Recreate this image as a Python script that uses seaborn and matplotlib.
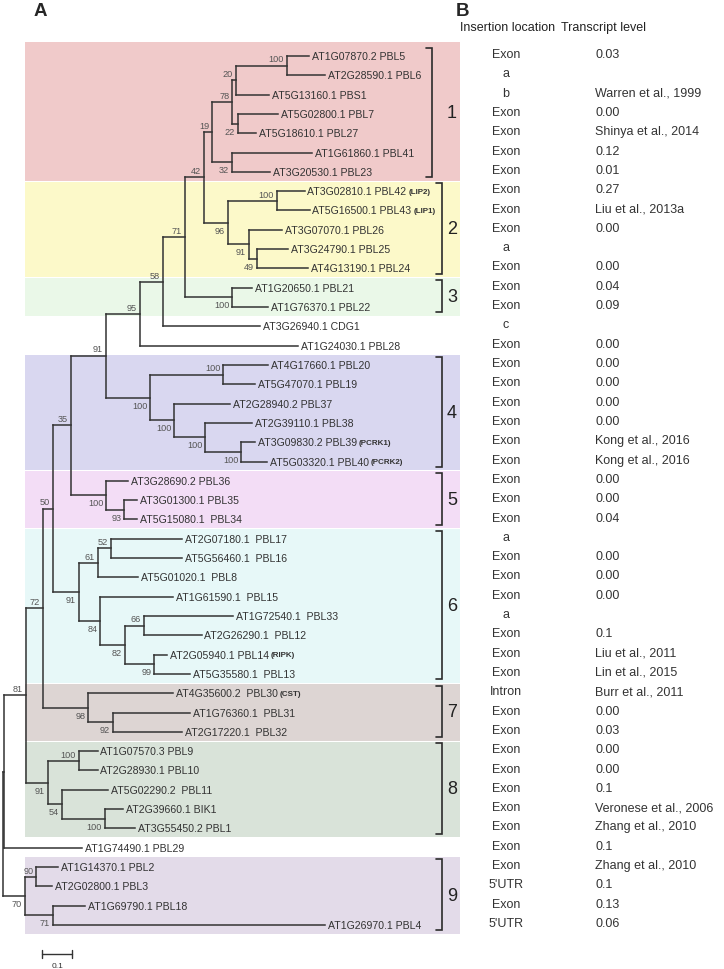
import re
import pandas as pd
import matplotlib
matplotlib.use("Agg")
import matplotlib.pyplot as plt
import matplotlib.transforms as mtransforms
import seaborn as sns

# ---- data ---------------------------------------------------------------
# clades in Newick form, branch lengths read off the tree (scale bar = 0.1)
clade1 = ("((((AT1G07870.2_PBL5:0.073,AT2G28590.1_PBL6:0.127)100:0.17,AT5G13160.1_PBS1:0.11)20:0.013,"
          "(AT5G02800.1_PBL7:0.133,AT5G18610.1_PBL27:0.06)22:0.02)78:0.067,"
          "(AT1G61860.1_PBL41:0.267,AT3G20530.1_PBL23:0.127)32:0.067)19:0.027")
clade2 = ("((AT3G02810.1_PBL42:0.093,AT5G16500.1_PBL43:0.11)100:0.163,"
          "(AT3G07070.1_PBL26:0.11,(AT3G24790.1_PBL25:0.103,AT4G13190.1_PBL24:0.17)49:0.027)91:0.07)96:0.08")
clade3 = "(AT1G20650.1_PBL21:0.067,AT1G76370.1_PBL22:0.12)100:0.157"
clade4 = ("((AT4G17660.1_PBL20:0.15,AT5G47070.1_PBL19:0.107)100:0.243,"
          "(AT2G28940.2_PBL37:0.187,(AT2G39110.1_PBL38:0.157,"
          "(AT3G09830.2_PBL39:0.047,AT5G03320.1_PBL40:0.087)100:0.12)100:0.103)100:0.08)100:0.147")
clade5 = "(AT3G28690.2_PBL36:0.073,(AT3G01300.1_PBL35:0.043,AT5G15080.1__PBL34:0.043)93:0.06)100:0.117"
clade6 = ("(((AT2G07180.1__PBL17:0.237,AT5G56460.1__PBL16:0.237)52:0.043,AT5G01020.1__PBL8:0.133)61:0.063,"
          "(AT1G61590.1__PBL15:0.243,((AT1G72540.1__PBL33:0.297,AT2G26290.1__PBL12:0.193)66:0.063,"
          "(AT2G05940.1_PBL14:0.043,AT5G35580.1__PBL13:0.12)99:0.097)82:0.083)84:0.07)91:0.087")
clade7 = "(AT4G35600.2__PBL30:0.283,(AT1G76360.1__PBL31:0.257,AT2G17220.1__PBL32:0.23)92:0.083)98:0.15"
clade8 = ("((AT1G07570.3_PBL9:0.063,AT2G28930.1_PBL10:0.063)100:0.103,"
          "(AT5G02290.2__PBL11:0.153,(AT2G39660.1_BIK1:0.06,AT3G55450.2_PBL1:0.1)100:0.143)54:0.047)91:0.073")
clade9 = ("((AT1G14370.1_PBL2:0.073,AT2G02800.1_PBL3:0.053)90:0.037,"
          "(AT1G69790.1_PBL18:0.107,AT1G26970.1_PBL4:0.907)71:0.093)70:0.075")

# backbone
n42 = f"({clade1},{clade2})42:0.063"
n71 = f"({n42},{clade3})71:0.073"
n58 = f"({n71},AT3G26940.1_CDG1:0.323)58:0.077"
n95 = f"({n58},AT1G24030.1_PBL28:0.527)95:0.113"
n91 = f"({n95},{clade4})91:0.117"
n35 = f"({n91},{clade5})35:0.06"
n50 = f"({n35},{clade6})50:0.033"
n72 = f"({n50},{clade7})72:0.057"
n81 = f"({n72},{clade8})81:0.073"
tree = f"(({n81},AT1G74490.1_PBL29:0.26):0.005,{clade9});"

tags = {"PBL42": "(LIP2)", "PBL43": "(LIP1)", "PBL39": "(PCRK1)",
        "PBL40": "(PCRK2)", "PBL14": "(RIPK)", "PBL30": "(CST)"}

group_names = ["1", "2", "3", "4", "5", "6", "7", "8", "9"]
group_first = [0, 7, 12, 16, 22, 25, 33, 36, 42]
group_last = [6, 11, 13, 21, 24, 32, 35, 40, 45]
group_colors = ["#f0caca", "#fcf9c9", "#eaf8e8", "#d9d7f0", "#f3ddf6",
                "#e7f8f8", "#ddd5d3", "#d9e3d9", "#e3dbe9"]

insertion = ["Exon", "a", "b", "Exon", "Exon", "Exon", "Exon", "Exon", "Exon", "Exon",
             "a", "Exon", "Exon", "Exon", "c", "Exon", "Exon", "Exon", "Exon", "Exon",
             "Exon", "Exon", "Exon", "Exon", "Exon", "a", "Exon", "Exon", "Exon", "a",
             "Exon", "Exon", "Exon", "Intron", "Exon", "Exon", "Exon", "Exon", "Exon", "Exon",
             "Exon", "Exon", "Exon", "5'UTR", "Exon", "5'UTR"]
transcript = ["0.03", "", "Warren et al., 1999", "0.00", "Shinya et al., 2014", "0.12", "0.01",
              "0.27", "Liu et al., 2013a", "0.00", "", "0.00", "0.04", "0.09", "", "0.00",
              "0.00", "0.00", "0.00", "0.00", "Kong et al., 2016", "Kong et al., 2016",
              "0.00", "0.00", "0.04", "", "0.00", "0.00", "0.00", "", "0.1",
              "Liu et al., 2011", "Lin et al., 2015", "Burr et al., 2011", "0.00", "0.03",
              "0.00", "0.00", "0.1", "Veronese et al., 2006", "Zhang et al., 2010", "0.1",
              "Zhang et al., 2010", "0.1", "0.13", "0.06"]


# ---- newick parsing / layout ----------------------------------------------
def parse(s):
    pos = 0
    lab_re = re.compile(r"[^,():;]*")
    bl_re = re.compile(r":([0-9.]+)")

    def node():
        nonlocal pos
        kids = []
        if s[pos] == "(":
            pos += 1
            while True:
                kids.append(node())
                if s[pos] == ",":
                    pos += 1
                    continue
                pos += 1
                break
        m = lab_re.match(s, pos)
        label = m.group(0)
        pos = m.end()
        bl = 0.0
        if s[pos] == ":":
            m = bl_re.match(s, pos)
            bl = float(m.group(1))
            pos = m.end()
        return {"label": label, "bl": bl, "kids": kids}

    return node()


root = parse(tree)
leaves = []


def layout(n, x0):
    n["x"] = x0 + n["bl"]
    if not n["kids"]:
        n["y"] = len(leaves)
        leaves.append(n)
    else:
        for k in n["kids"]:
            layout(k, n["x"])
        n["y"] = (n["kids"][0]["y"] + n["kids"][-1]["y"]) / 2


layout(root, 0.0)

segs = []
boot = []


def walk(n, parent_x):
    if parent_x is not None:
        segs.append((parent_x, n["y"], n["x"], n["y"]))
    if n["kids"]:
        segs.append((n["x"], n["kids"][0]["y"], n["x"], n["kids"][-1]["y"]))
        for i, k in enumerate(n["kids"]):
            if k["kids"] and k["label"]:
                boot.append((k["x"], k["y"], k["label"], i == 0))
            walk(k, n["x"])


walk(root, None)

df = pd.DataFrame([{"seg": i, "x": x, "y": y}
                   for i, s in enumerate(segs)
                   for x, y in ((s[0], s[1]), (s[2], s[3]))])

# ---- plot -----------------------------------------------------------------
sns.set_theme(style="white")
plt.rcParams["font.family"] = ["Liberation Sans", "DejaVu Sans"]

W, H = 724, 970
fig = plt.figure(figsize=(W / 100, H / 100), dpi=100)
ax = fig.add_axes([0, 0, 1, 1])

# one tree unit = 300 px, first leaf at y=57px, leaf step 19.31px
ax.set_xlim(-2.5 / 300, (W - 2.5) / 300)
ax.set_ylim((H - 57) / 19.31, -57 / 19.31)
trans = mtransforms.blended_transform_factory(ax.transAxes, ax.transData)

# coloured clade bands + brackets
for name, a, b, col in zip(group_names, group_first, group_last, group_colors):
    top = a - 0.75 if a == 0 else a - 0.5
    ax.axhspan(top, b + 0.45, xmin=25 / W, xmax=460 / W, color=col, lw=0, zorder=0)
    bx = 432 / W if name == "1" else 442 / W
    tick = 6 / W
    ax.plot([bx - tick, bx, bx, bx - tick], [a - 0.4, a - 0.4, b + 0.28, b + 0.28],
            transform=trans, color="#2b2b2b", lw=1.2, solid_joinstyle="miter")
    ax.text(452 / W, (a + b) / 2 - 0.05, name, transform=trans, ha="center", va="center",
            fontsize=13, color="#222222")

sns.lineplot(data=df, x="x", y="y", units="seg", estimator=None, sort=False,
             color="#333333", lw=1.1, ax=ax, legend=False, solid_capstyle="projecting")

for lf in leaves:
    txt = lf["label"].replace("_", " ")
    t = ax.annotate(txt, (lf["x"], lf["y"]), xytext=(2, 0), textcoords="offset points",
                    ha="left", va="center", fontsize=7.6, color="#333333")
    key = txt.split()[-1]
    if key in tags:
        ax.annotate(tags[key], xy=(1, 0.5), xycoords=t, xytext=(1.5, 0),
                    textcoords="offset points", ha="left", va="center",
                    fontsize=5.8, fontweight="bold", color="#333333")

for x, y, lab, upper in boot:
    ax.annotate(lab, (x, y), xytext=(-2, 4.8 if upper else -5.4), textcoords="offset points",
                ha="right", va="center", fontsize=6.6, color="#555555")

# scale bar
sb_x, sb_y = 0.132, 46.5
ax.plot([sb_x, sb_x + 0.1], [sb_y, sb_y], color="#333333", lw=1.0)
ax.plot([sb_x, sb_x], [sb_y - 0.2, sb_y + 0.2], color="#333333", lw=1.0)
ax.plot([sb_x + 0.1, sb_x + 0.1], [sb_y - 0.2, sb_y + 0.2], color="#333333", lw=1.0)
ax.text(sb_x + 0.05, sb_y + 0.6, "0.1", ha="center", va="center", fontsize=6, color="#333333")

# table (panel B)
ax.text(460 / W, -1.5, "Insertion location", transform=trans, ha="left", va="center",
        fontsize=9, color="#222222")
ax.text(561 / W, -1.5, "Transcript level", transform=trans, ha="left", va="center",
        fontsize=9, color="#222222")
for i, (ins, lev) in enumerate(zip(insertion, transcript)):
    ax.text(506 / W, i - 0.1, ins, transform=trans, ha="center", va="center",
            fontsize=9, color="#333333")
    ax.text(595 / W, i - 0.1, lev, transform=trans, ha="left", va="center",
            fontsize=9, color="#333333")

fig.text(34 / W, 1 - 11 / H, "A", fontsize=13.5, fontweight="bold", va="center", ha="left")
fig.text(456 / W, 1 - 11 / H, "B", fontsize=13.5, fontweight="bold", va="center", ha="left")

ax.set_axis_off()
fig.savefig("out.png", dpi=100)
